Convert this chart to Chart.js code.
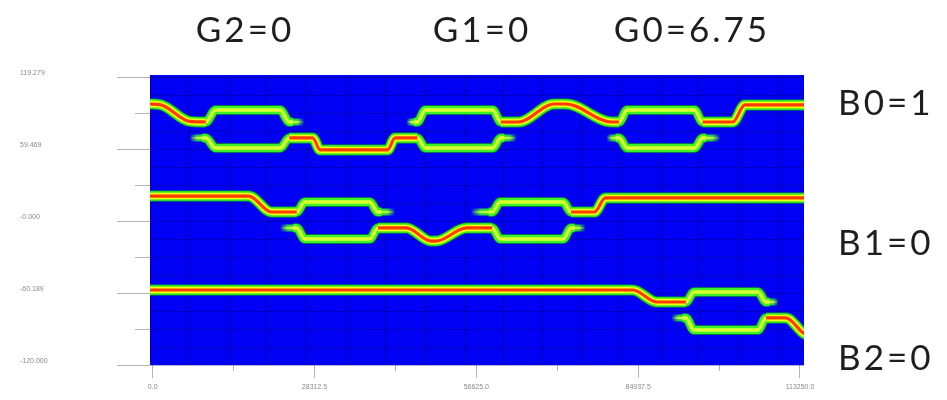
<!DOCTYPE html>
<html>
<head>
<meta charset="utf-8">
<script src="https://cdn.jsdelivr.net/npm/chart.js@4.4.1/dist/chart.umd.min.js"></script>
<style>
  html, body { margin: 0; padding: 0; background: #ffffff; }
  #wrap { width: 947px; height: 400px; position: relative; }
</style>
</head>
<body>
<div id="wrap"><canvas id="c" width="947" height="400"></canvas></div>
<script>
// ---- axis ticks ----
const xTickValues = [0, 28312.5, 56625, 84937.5, 113250];
const xTickLabels = ['0.0', '28312.5', '56625.0', '84937.5', '113250.0'];
const xMinorValues = [14156.25, 42468.75, 70781.25, 99093.75];
const yTickValues = [120, 60, 0, -60, -120];
const yTickLabels = ['119.279', '59.469', '-0.000', '-60.189', '-120.000'];
const yMinorValues = [90, 30, -30, -90];

// ---- annotations ----
const gateLabels = ['G2=0', 'G1=0', 'G0=6.75'];
const outLabels = ['B0=1', 'B1=0', 'B2=0'];

// ---- guide B0 (top) : full-power pieces [z, x] ----
const b0Feed  = [[-500, 97.5], [1300, 97.0], [6500, 83.0], [9300, 82.5]];
const b0Link1 = [[23900, 69.2], [28000, 69.2], [29300, 59.2], [41100, 59.2], [42400, 69.2], [46300, 69.2]];
const b0Link2 = [[60900, 82.5], [64000, 82.5], [70200, 97.5], [72300, 97.5], [80300, 82.5], [81600, 82.5]];
const b0Exit  = [[96200, 82.5], [101500, 82.5], [103600, 96.7], [114500, 96.7]];
// couplers: [start, arms open, arms close, end]
const b0Couplers = [[9300, 11000, 22300, 23900], [46300, 47700, 59500, 60900], [81600, 83000, 94800, 96200]];
const b0Levels = [82.5, 69.2];
const b0Arms = [92.5, 60.8];
// idle ports: [bright end, faded end, level]
const b0Stubs = [[9300, 6500, 69.2], [23900, 26500, 82.5], [46300, 44400, 82.5],
                 [60900, 63700, 69.2], [81600, 79400, 69.2], [96200, 99300, 69.2]];

// ---- guide B1 (middle) ----
const b1Feed = [[-500, 20.8], [16800, 20.8], [20800, 7.5], [25200, 7.5]];
const b1Link = [[39400, -5.8], [44400, -5.8], [48700, -16.7], [49600, -16.7], [54900, -5.8], [59400, -5.8]];
const b1Exit = [[73200, 7.5], [77300, 7.5], [79200, 19.2], [114500, 19.2]];
const b1Couplers = [[25200, 26600, 38000, 39400], [59400, 60800, 71800, 73200]];
const b1Levels = [7.5, -5.8];
const b1Arms = [15.8, -15.0];
const b1Stubs = [[25200, 22300, -5.8], [39400, 42400, 7.5], [59400, 55700, 7.5], [73200, 75700, -5.8]];

// ---- guide B2 (bottom) ----
const b2Feed = [[-500, -57.5], [84000, -57.5], [88200, -67.5], [93300, -67.5]];
const b2Exit = [[107300, -80.8], [110800, -80.8], [113800, -93.3], [114500, -95.0]];
const b2Couplers = [[93300, 94700, 105900, 107300]];
const b2Levels = [-67.5, -80.8];
const b2Arms = [-59.2, -90.8];
const b2Stubs = [[93300, 90800, -80.8], [107300, 109500, -67.5]];

// ---- beam styling (outer glow -> core) ----
const FULL = [
  { c: '#0a9e12', w: 11, o: 10 },
  { c: '#3cf02a', w: 9.5, o: 9 },
  { c: '#f4ff10', w: 6.5, o: 7 },
  { c: '#ff3c00', w: 3.2, o: 6 }
];
const HALF = [
  { c: '#0a9e12', w: 9.5, o: 10 },
  { c: '#3cf02a', w: 8, o: 9 },
  { c: '#dcff30', w: 3.5, o: 8 }
];
const STUB = [
  { c: [50, 235, 40], w: 7, o: 9 },
  { c: [190, 255, 60], w: 2.5, o: 8 }
];

const datasets = [];
function toPts(arr) { return arr.map(p => ({ x: p[0], y: p[1] })); }

function addBeam(arr, style) {
  style.forEach(l => {
    datasets.push({
      data: toPts(arr), borderColor: l.c, borderWidth: l.w, order: l.o,
      cubicInterpolationMode: 'monotone', pointRadius: 0, fill: false,
      borderCapStyle: 'butt', borderJoinStyle: 'round', clip: 0
    });
  });
}

function addCouplers(couplers, levels, arms) {
  couplers.forEach(c => {
    [0, 1].forEach(k => {
      addBeam([[c[0] - 600, levels[k]], [c[0], levels[k]], [c[1], arms[k]],
               [c[2], arms[k]], [c[3], levels[k]], [c[3] + 600, levels[k]]], HALF);
    });
  });
}

function addStubs(stubs) {
  stubs.forEach(s => {
    STUB.forEach(l => {
      const rgb = l.c.join(',');
      datasets.push({
        data: toPts([[s[0], s[2]], [s[1], s[2]]]), borderWidth: l.w, order: l.o,
        pointRadius: 0, fill: false, borderCapStyle: 'butt', clip: 0,
        borderColor: ctx => {
          const ch = ctx.chart, xs = ch.scales && ch.scales.x;
          if (!xs || !ch.chartArea) return 'rgba(' + rgb + ',0.8)';
          const p0 = xs.getPixelForValue(s[0]), p1 = xs.getPixelForValue(s[1]);
          const g = ch.ctx.createLinearGradient(p0, 0, p1, 0);
          g.addColorStop(0, 'rgba(' + rgb + ',1)');
          g.addColorStop(0.55, 'rgba(' + rgb + ',0.85)');
          g.addColorStop(1, 'rgba(' + rgb + ',0)');
          return g;
        }
      });
    });
  });
}

addCouplers(b0Couplers, b0Levels, b0Arms);
addCouplers(b1Couplers, b1Levels, b1Arms);
addCouplers(b2Couplers, b2Levels, b2Arms);
addStubs(b0Stubs); addStubs(b1Stubs); addStubs(b2Stubs);
[b0Feed, b0Link1, b0Link2, b0Exit, b1Feed, b1Link, b1Exit, b2Feed, b2Exit].forEach(p => addBeam(p, FULL));

// ---- plugins ----
const plotBackground = {
  id: 'plotBackground',
  beforeDraw(chart) {
    const a = chart.chartArea, ctx = chart.ctx;
    ctx.save();
    ctx.fillStyle = '#0000f4';
    ctx.fillRect(a.left, a.top, a.right - a.left, a.bottom - a.top);
    ctx.restore();
  }
};

const annotations = {
  id: 'annotations',
  afterDraw(chart) {
    const ctx = chart.ctx;
    ctx.save();
    ctx.fillStyle = '#1e1e1e';
    ctx.font = '35px Lato, "Open Sans", sans-serif';
    try { ctx.letterSpacing = '3px'; } catch (e) {}
    ctx.textBaseline = 'alphabetic';
    ctx.textAlign = 'center';
    const gx = [245, 482, 692];
    gateLabels.forEach((t, i) => ctx.fillText(t, gx[i], 42));
    ctx.textAlign = 'left';
    const by = [115, 255, 370];
    outLabels.forEach((t, i) => ctx.fillText(t, 838, by[i]));
    ctx.restore();
  }
};

const tickFont = { size: 7, family: '"Liberation Sans", Arial, sans-serif' };

new Chart(document.getElementById('c'), {
  type: 'scatter',
  data: { datasets },
  plugins: [plotBackground, annotations],
  options: {
    responsive: false,
    animation: false,
    events: [],
    layout: { padding: { left: 20, top: 75, right: 143, bottom: 0 } },
    plugins: { legend: { display: false }, tooltip: { enabled: false } },
    elements: { line: { tension: 0 } },
    datasets: { scatter: { showLine: true } },
    scales: {
      x: {
        type: 'linear', position: 'bottom', min: -470, max: 113950, weight: 2,
        afterBuildTicks: s => { s.ticks = xTickValues.map(v => ({ value: v })); },
        afterFit: s => { s.height = 35; },
        ticks: { autoSkip: false, maxRotation: 0, padding: 5, font: tickFont, color: '#8a8a8a',
                 callback: (v, i) => xTickLabels[i] },
        grid: { drawOnChartArea: false, tickLength: 13, tickColor: '#b4b4b4' },
        border: { display: false }
      },
      xMinor: {
        type: 'linear', position: 'bottom', min: -470, max: 113950, weight: 1,
        afterBuildTicks: s => { s.ticks = xMinorValues.map(v => ({ value: v })); },
        afterFit: s => { s.height = 0; },
        ticks: { display: false },
        grid: { drawOnChartArea: false, tickLength: 6, tickColor: '#b4b4b4' },
        border: { display: false }
      },
      xGrid: {
        type: 'linear', position: 'bottom', min: -470, max: 113950, weight: 0, z: 1,
        afterBuildTicks: s => {
          const t = [];
          for (let v = -470; v <= 113950; v += 6867) t.push({ value: v });
          s.ticks = t;
        },
        afterFit: s => { s.height = 0; },
        ticks: { display: false },
        grid: { drawTicks: false, color: 'rgba(0,0,90,0.45)', lineWidth: 1 },
        border: { display: false }
      },
      y: {
        type: 'linear', position: 'left', min: -120, max: 121.67, weight: 2,
        afterBuildTicks: s => { s.ticks = yTickValues.map(v => ({ value: v })); },
        afterFit: s => { s.width = 130; },
        ticks: { autoSkip: false, crossAlign: 'far', labelOffset: -4, font: tickFont, color: '#8a8a8a',
                 callback: (v, i) => yTickLabels[i] },
        grid: { drawOnChartArea: false, tickLength: 33, tickColor: '#b4b4b4' },
        border: { display: false }
      },
      yMinor: {
        type: 'linear', position: 'left', min: -120, max: 121.67, weight: 1,
        afterBuildTicks: s => { s.ticks = yMinorValues.map(v => ({ value: v })); },
        afterFit: s => { s.width = 0; },
        ticks: { display: false },
        grid: { drawOnChartArea: false, tickLength: 15, tickColor: '#b4b4b4' },
        border: { display: false }
      },
      yGrid: {
        type: 'linear', position: 'left', min: -120, max: 121.67, weight: 0, z: 1,
        afterBuildTicks: s => {
          const t = [];
          for (let v = -120; v <= 121; v += 15) t.push({ value: v });
          s.ticks = t;
        },
        afterFit: s => { s.width = 0; },
        ticks: { display: false },
        grid: { drawTicks: false, color: 'rgba(0,0,90,0.3)', lineWidth: 1 },
        border: { display: false }
      }
    }
  }
});
</script>
</body>
</html>
